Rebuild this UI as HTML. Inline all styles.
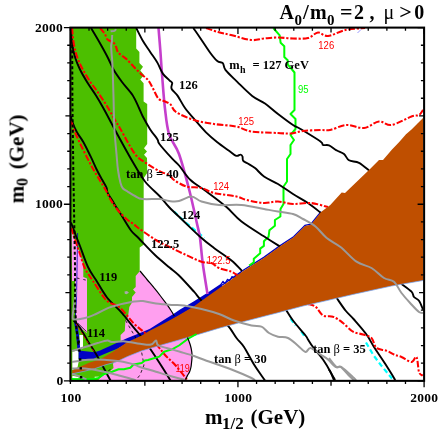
<!DOCTYPE html>
<html><head><meta charset="utf-8"><title>plot</title>
<style>html,body{margin:0;padding:0;background:#fff}svg{display:block}</style></head>
<body><svg width="438" height="436" viewBox="0 0 438 436">
<rect width="438" height="436" fill="#fff"/>
<path d="M139.7,271.3 L147.0,279.5 L153.9,287.7 L160.5,296.0 L166.7,304.2 L171.0,310.5 L174.3,316.0 L156.0,328.0 L140.0,336.0 L124.0,343.0 L112.0,349.0 L112.0,300.0 L130.0,275.0Z" fill="#FF9FEF"/>
<path d="M100.0,364.0 L117.0,359.0 L134.0,352.0 L140.0,351.0 L156.0,345.0 L172.0,340.0 L187.5,334.0 L187.5,337.6 L190.3,345.0 L191.8,352.0 L192.0,357.5 L191.5,363.0 L191.0,367.0 L189.5,372.0 L187.5,375.4 L185.4,380.5 L96.0,380.5Z" fill="#FF9FEF"/>
<path d="M71.0,28.0 L136.2,28.0 L136.2,48.5 L139.4,52.0 L139.4,63.0 L143.0,66.8 L140.3,70.5 L144.0,75.0 L140.3,79.6 L143.6,83.3 L143.6,101.4 L147.2,104.0 L147.2,144.0 L144.0,148.3 L147.0,151.5 L144.0,154.7 L147.0,157.9 L147.2,173.0 L143.7,178.0 L143.6,244.7 L139.7,247.4 L139.7,271.3 L135.7,275.9 L135.7,286.9 L133.0,289.6 L135.7,292.4 L132.0,297.0 L132.0,302.5 L129.3,307.0 L128.0,317.0 L125.4,321.0 L124.8,331.0 L120.6,335.0 L120.6,341.0 L118.0,352.0 L113.0,364.0 L113.5,368.0 L108.0,373.0 L104.0,375.0 L100.0,378.0 L98.0,380.5 L71.0,380.5Z" fill="#4CBF00"/>
<path d="M71.5,229.0 L73.6,235.5 L76.5,244.0 L80.0,254.0 L82.5,262.0 L83.3,265.0 L83.3,277.0 L87.0,278.5 L87.0,333.0 L80.0,327.7 L76.0,322.0 L76.0,300.0 L75.0,281.0 L72.0,281.0Z" fill="#FF9FEF"/>
<path d="M79.5,335.0 L83.0,335.0 L83.0,348.5 L79.5,350.0Z" fill="#fff"/>
<path d="M72.3,351.8 L78.6,350.3 L78.6,362.0 L77.5,367.5 L72.3,370.0Z" fill="#fff"/>
<path d="M72.3,375.7 L78.6,377.0 L78.6,378.6 L72.3,378.6Z" fill="#fff"/>
<path d="M94.7,376.7 L99.0,376.7 L99.0,378.5 L94.7,378.5Z" fill="#fff"/>
<path d="M78.6,350.5 L94.7,352.3 L100.0,350.5 L113.8,344.3 L127.5,337.9 L141.3,332.4 L150.0,328.7 L163.8,320.0 L173.8,313.8 L180.0,309.5 L194.0,301.2 L207.5,292.8 L221.3,283.4 L222.5,287.0 L194.0,307.0 L172.0,320.0 L160.0,327.5 L141.3,336.5 L127.5,342.8 L120.0,347.5 L116.0,349.2 L103.8,354.3 L94.7,358.3 L93.5,359.3 L78.6,359.3Z" fill="#0000C4"/>
<path d="M219.0,287.3 L244.0,269.8 L263.8,257.4 L279.8,245.9 L293.6,236.7 L305.0,225.4 L310.8,224.1 L321.0,211.7" fill="none" stroke="#0000C4" stroke-width="1.3" />
<path d="M75.5,322.0 L77.5,335.0 L79.0,351.0" fill="none" stroke="#0000C4" stroke-width="2.8" />
<path d="M221.0,284.3 L223.0,281.3 L225.0,283.6 L227.5,279.3 L229.7,281.0 L232.0,276.6 L234.2,278.2 L236.5,274.2 L238.7,275.4 L241.0,272.0" fill="none" stroke="#0000C4" stroke-width="1.2" stroke-linejoin="round"/>
<path d="M77.6,233.0 L77.0,270.0 L76.5,300.0 L75.0,320.5" fill="none" stroke="#0000C4" stroke-width="0.8" />
<path d="M174.0,211.6 L185.0,222.0 L204.5,238.0" fill="none" stroke="#00FFFF" stroke-width="2.2" stroke-dasharray="5 3"/>
<path d="M290.5,318.5 L295.5,325.5" fill="none" stroke="#00FFFF" stroke-width="2.2" stroke-dasharray="5 3"/>
<path d="M301.3,331.5 L305.3,337.5" fill="none" stroke="#00FFFF" stroke-width="2.2" stroke-dasharray="5 3"/>
<path d="M366.0,342.5 L373.3,355.0 L380.8,365.0 L387.0,372.5 L392.0,378.5" fill="none" stroke="#00FFFF" stroke-width="2.2" stroke-dasharray="5 3"/>
<path d="M158.5,28.0 C158.8,31.7 159.7,42.3 160.3,50.0 C160.9,57.7 161.2,64.3 162.0,74.0 C162.8,83.7 163.7,98.0 164.9,108.0 C166.1,118.0 166.7,126.3 169.0,134.0 C171.3,141.7 175.7,144.8 179.0,154.0 C182.3,163.2 186.1,177.8 189.0,189.0 C191.9,200.2 194.7,213.3 196.5,221.5 C198.3,229.7 199.0,231.1 200.0,238.0 C201.0,244.9 201.4,253.7 202.7,263.0 C203.9,272.3 206.7,288.8 207.5,294.0" fill="none" stroke="#C53FCC" stroke-width="2.6" />
<path d="M273.3,28.0 L279.7,35.3 L280.6,42.7 L284.3,46.3 L284.3,57.0 L287.7,60.2 L287.7,64.3 L294.5,72.5 L294.5,110.0 L290.5,114.0 L295.5,119.0 L295.5,129.0 L290.5,135.0 L294.0,140.0 L290.5,145.0 L290.5,154.0 L287.0,159.0 L287.0,181.5 L283.5,186.5 L283.5,204.0 L280.5,209.0 L280.4,216.5 L274.9,220.0 L274.9,225.7 L269.4,230.3 L268.6,236.7 L263.9,241.3 L263.9,245.9 L260.2,248.6 L260.2,253.2 L253.8,258.7 L253.8,262.4 L249.2,265.5" fill="none" stroke="#00FF00" stroke-width="2.0" stroke-linejoin="round"/>
<path d="M193.3,28.0 C194.4,29.5 196.9,33.1 199.7,37.2 C202.5,41.3 207.1,48.5 210.0,52.5 C212.9,56.5 215.2,59.2 217.3,61.0 C219.4,62.8 221.4,61.7 222.8,63.2 C224.2,64.7 223.2,67.1 225.6,70.2 C228.0,73.3 233.1,77.8 237.5,82.1 C241.9,86.4 247.6,92.3 252.2,95.9 C256.8,99.5 260.7,100.5 265.0,103.5 C269.3,106.5 273.3,110.4 278.0,114.0 C282.7,117.6 289.2,122.5 293.0,125.0 C296.8,127.5 295.9,126.2 300.5,129.0 C305.1,131.8 316.8,138.8 320.5,141.5 C324.2,144.2 321.6,144.4 323.0,145.0 C324.4,145.6 326.8,144.4 329.0,145.3 C331.2,146.2 334.0,148.9 336.5,150.3 C339.0,151.8 341.9,152.3 344.0,154.0 C346.1,155.7 346.5,158.8 349.0,160.3 C351.5,161.8 355.7,161.1 359.0,162.8 C362.3,164.5 367.3,169.2 369.0,170.5" fill="none" stroke="#000" stroke-width="1.9" stroke-linejoin="round"/>
<path d="M136.2,28.0 C137.3,30.1 140.5,36.8 142.8,40.8 C145.1,44.8 147.8,48.2 150.2,51.9 C152.6,55.6 155.4,59.2 157.5,62.9 C159.6,66.6 161.0,71.0 163.0,73.9 C165.0,76.8 167.9,78.8 169.4,80.3 C170.9,81.8 171.8,81.6 172.2,83.0 C172.5,84.4 170.6,86.4 171.5,88.6 C172.4,90.8 175.4,92.7 177.7,95.9 C179.9,99.1 182.1,104.0 185.0,108.0 C187.9,112.0 191.5,115.9 195.0,120.0 C198.5,124.1 202.3,128.7 206.0,132.4 C209.7,136.1 213.1,138.9 217.0,142.0 C220.9,145.1 226.2,148.7 229.4,151.0 C232.6,153.3 234.5,155.2 236.3,155.8 C238.1,156.4 239.4,154.5 240.4,154.6 C241.4,154.7 242.1,155.5 242.5,156.5 C242.9,157.5 242.3,159.5 243.1,160.6 C243.9,161.7 245.3,162.1 247.3,163.3 C249.3,164.6 252.2,165.9 255.0,168.1 C257.8,170.3 260.2,173.8 264.0,176.5 C267.8,179.2 273.2,181.1 278.0,184.0 C282.8,186.9 288.0,190.8 293.0,194.0 C298.0,197.2 303.3,199.8 308.0,203.0 C312.7,206.2 318.8,211.3 321.0,213.0" fill="none" stroke="#000" stroke-width="1.9" stroke-linejoin="round"/>
<path d="M91.0,28.0 C92.7,30.8 98.2,40.0 101.0,45.0 C103.8,50.0 105.9,53.8 108.0,58.0 C110.1,62.2 111.4,66.0 113.8,70.0 C116.1,74.0 118.9,77.8 122.0,82.0 C125.1,86.2 129.7,90.7 132.5,95.0 C135.3,99.3 137.3,104.4 139.0,108.0 C140.7,111.6 140.9,112.9 142.8,116.5 C144.7,120.1 147.8,125.6 150.2,129.4 C152.6,133.2 156.0,137.0 157.5,139.4 C159.0,141.8 157.0,140.8 159.4,144.0 C161.8,147.2 168.8,155.0 172.2,158.7 C175.5,162.4 176.4,162.4 179.5,166.0 C182.6,169.6 186.0,175.8 190.5,180.0 C195.0,184.2 200.5,187.0 206.5,191.5 C212.5,196.0 220.7,202.0 226.5,207.0 C232.3,212.0 234.8,216.3 241.5,221.5 C248.2,226.7 260.1,233.8 266.5,238.0 C272.9,242.2 277.8,245.1 280.0,246.5" fill="none" stroke="#000" stroke-width="1.9" stroke-linejoin="round"/>
<path d="M71.0,28.0 C71.2,30.8 71.6,40.0 72.3,45.0 C73.0,50.0 74.0,53.9 75.3,58.0 C76.6,62.1 77.9,65.2 80.0,69.5 C82.1,73.8 85.3,79.2 88.0,83.5 C90.7,87.8 93.5,91.5 96.0,95.5 C98.5,99.5 100.7,103.3 103.0,107.5 C105.3,111.7 108.1,116.9 110.0,120.5 C111.9,124.1 110.8,122.2 114.5,129.0 C118.2,135.8 127.4,152.8 132.5,161.5 C137.6,170.2 140.4,175.7 145.0,181.5 C149.6,187.3 156.0,192.2 160.0,196.5 C164.0,200.8 165.0,202.8 169.0,207.0 C173.0,211.2 178.6,216.3 184.0,221.5 C189.4,226.7 196.5,233.6 201.5,238.0 C206.5,242.4 209.0,244.2 214.0,248.0 C219.0,251.8 226.8,256.7 231.5,260.5 C236.2,264.3 240.2,269.2 242.0,271.0" fill="none" stroke="#000" stroke-width="1.9" stroke-linejoin="round"/>
<path d="M71.0,116.0 C71.2,116.8 71.0,118.3 72.0,121.0 C73.0,123.7 74.9,128.5 76.8,132.0 C78.7,135.5 81.0,138.0 83.3,142.0 C85.6,146.0 88.2,151.5 90.5,156.2 C92.8,160.9 95.0,166.1 96.9,170.0 C98.8,173.9 100.4,176.6 102.0,179.5 C103.6,182.4 105.6,185.3 106.5,187.5 C107.4,189.7 106.6,190.4 107.5,192.5 C108.4,194.6 110.4,197.4 112.0,200.0 C113.6,202.6 115.5,205.9 117.0,208.3 C118.5,210.7 118.7,210.8 121.0,214.5 C123.3,218.2 128.0,226.5 131.0,230.5 C134.0,234.5 135.0,234.4 139.0,238.5 C143.0,242.6 149.9,250.2 155.0,255.0 C160.1,259.8 165.5,264.1 169.5,267.5 C173.5,270.9 174.9,271.5 179.0,275.5 C183.1,279.5 190.5,287.8 194.0,291.7 C197.5,295.6 196.5,295.1 200.0,299.0 C203.5,302.9 210.4,310.6 215.0,315.0 C219.6,319.4 224.1,321.7 227.7,325.5 C231.3,329.3 233.8,334.4 236.5,338.0 C239.2,341.6 241.1,342.6 244.0,347.0 C246.9,351.4 250.5,358.9 254.0,364.5 C257.5,370.1 263.2,377.8 265.0,380.5" fill="none" stroke="#000" stroke-width="1.9" stroke-linejoin="round"/>
<path d="M71.0,222.5 C71.4,223.6 72.7,226.8 73.5,229.0 C74.3,231.2 74.9,233.2 76.0,236.0 C77.1,238.8 78.0,240.8 80.0,246.0 C82.0,251.2 85.3,261.3 88.0,267.0 C90.7,272.7 92.8,274.9 96.0,280.0 C99.2,285.1 103.0,292.4 107.0,297.5 C111.0,302.6 117.2,307.8 120.0,310.8 C122.8,313.8 121.7,312.7 124.0,315.5 C126.3,318.3 131.3,324.6 134.0,327.8 C136.7,331.1 137.2,331.4 140.0,335.0 C142.8,338.6 147.0,344.2 150.5,349.3 C154.0,354.4 157.7,360.1 161.0,365.3 C164.3,370.5 168.9,378.0 170.5,380.5" fill="none" stroke="#000" stroke-width="1.9" stroke-linejoin="round"/>
<path d="M73.6,320.5 C74.7,321.7 77.6,324.2 80.0,327.7 C82.4,331.2 85.3,337.0 88.0,341.4 C90.7,345.8 93.0,348.9 96.0,354.0 C99.0,359.1 103.3,367.3 105.7,371.7 C108.1,376.1 109.7,379.0 110.5,380.5" fill="none" stroke="#000" stroke-width="1.9" stroke-linejoin="round"/>
<path d="M285.5,309.0 C286.8,310.9 289.7,316.1 293.0,320.5 C296.3,324.9 303.0,332.3 305.5,335.5 C308.0,338.7 306.8,337.6 308.0,339.5 C309.2,341.4 310.5,343.7 313.0,347.0 C315.5,350.3 320.1,355.3 323.0,359.5 C325.9,363.7 328.7,368.5 330.5,372.0 C332.3,375.5 333.4,379.1 334.0,380.5" fill="none" stroke="#000" stroke-width="1.9" stroke-linejoin="round"/>
<path d="M336.7,298.0 C338.2,300.1 342.6,306.9 345.5,310.5 C348.4,314.1 350.5,315.5 354.0,319.5 C357.5,323.5 363.2,329.9 366.5,334.5 C369.8,339.1 371.1,342.4 374.0,347.0 C376.9,351.6 380.7,356.8 384.0,362.0 C387.3,367.2 392.2,374.9 394.0,378.0 C395.8,381.1 394.8,380.1 395.0,380.5" fill="none" stroke="#000" stroke-width="1.9" stroke-linejoin="round"/>
<path d="M401.5,284.0 C403.2,285.3 409.4,289.5 411.5,291.7 C413.6,293.9 412.8,295.5 414.0,297.0 C415.2,298.5 417.5,298.6 419.0,300.7 C420.5,302.8 422.3,308.0 423.0,309.5" fill="none" stroke="#000" stroke-width="1.9" stroke-linejoin="round"/>
<path d="M329.0,369.5 C329.8,370.9 333.0,376.2 334.0,378.0 C335.0,379.8 334.8,380.1 335.0,380.5" fill="none" stroke="#000" stroke-width="1.9" stroke-linejoin="round"/>
<path d="M206.0,28.0 C208.0,28.7 213.8,30.8 218.0,32.0 C222.2,33.2 225.5,33.7 231.0,35.0 C236.5,36.3 245.5,39.4 251.0,40.0 C256.5,40.6 259.5,38.9 264.0,38.5 C268.5,38.1 273.2,37.5 278.0,37.5 C282.8,37.5 288.0,38.4 293.0,38.5 C298.0,38.6 303.8,39.0 308.0,38.0 C312.2,37.0 314.7,32.8 318.0,32.5 C321.3,32.2 323.4,36.4 328.0,36.0 C332.6,35.6 339.3,31.3 345.5,30.0 C351.7,28.7 361.8,28.3 365.0,28.0" fill="none" stroke="#FF0000" stroke-width="2.05" stroke-dasharray="6.5 1.8 2.2 1.8"/>
<path d="M100.0,28.0 C100.4,28.4 101.5,29.7 102.3,30.7 C103.1,31.7 104.2,32.6 105.0,34.0 C105.8,35.4 106.2,37.9 107.0,39.0 C107.8,40.1 108.7,40.3 109.7,40.8 C110.8,41.3 112.2,41.2 113.3,42.2 C114.3,43.2 115.2,45.1 116.0,46.8 C116.8,48.5 116.9,50.8 118.0,52.3 C119.1,53.8 121.0,54.8 122.5,56.0 C124.0,57.2 125.1,57.8 127.0,59.6 C128.9,61.4 131.7,64.6 134.0,67.0 C136.3,69.4 138.6,71.7 141.0,73.9 C143.4,76.1 146.3,77.8 148.3,80.3 C150.3,82.8 151.3,85.5 153.0,88.6 C154.7,91.6 156.4,96.4 158.4,98.6 C160.4,100.8 162.9,100.6 164.9,101.5 C166.9,102.4 168.6,102.5 170.4,104.2 C172.2,106.0 172.1,109.4 176.0,112.0 C179.9,114.6 187.7,118.0 194.0,120.0 C200.3,122.0 207.0,122.9 214.0,124.0 C221.0,125.1 229.8,125.2 236.0,126.5 C242.2,127.8 244.5,130.4 251.5,131.5 C258.5,132.6 271.5,132.7 278.0,133.0 C284.5,133.3 286.3,133.8 290.5,133.5 C294.7,133.2 298.0,131.6 303.0,131.0 C308.0,130.4 316.0,130.2 320.5,130.0 C325.0,129.8 325.7,130.8 330.0,130.0 C334.3,129.2 340.8,125.3 346.5,125.0 C352.2,124.7 358.6,128.6 364.0,128.0 C369.4,127.4 374.4,122.0 379.0,121.5 C383.6,121.0 386.1,125.8 391.5,125.0 C396.9,124.2 406.9,118.2 411.5,116.5 C416.1,114.8 417.1,116.1 419.0,115.0 C420.9,113.9 422.3,110.8 423.0,110.0" fill="none" stroke="#FF0000" stroke-width="2.05" stroke-dasharray="6.5 1.8 2.2 1.8"/>
<path d="M72.0,28.0 C72.3,30.8 73.1,40.0 74.0,45.0 C74.9,50.0 76.1,54.0 77.5,58.0 C78.9,62.0 80.4,65.1 82.5,69.0 C84.6,72.9 87.4,77.6 90.0,81.5 C92.6,85.4 95.1,88.2 98.0,92.5 C100.9,96.8 104.7,102.4 107.5,107.0 C110.3,111.6 113.1,116.8 115.0,120.0 C116.9,123.2 118.0,124.8 119.0,126.5 C120.0,128.2 118.3,125.4 121.0,130.0 C123.7,134.6 130.6,148.3 135.0,154.0 C139.4,159.7 143.3,161.1 147.5,164.0 C151.7,166.9 156.4,169.7 160.0,171.5 C163.6,173.3 166.7,173.6 169.0,175.0 C171.3,176.4 171.1,178.1 174.0,180.0 C176.9,181.9 181.9,185.2 186.5,186.5 C191.1,187.8 196.9,186.9 201.5,188.0 C206.1,189.1 208.2,191.6 214.0,193.0 C219.8,194.4 231.1,195.3 236.5,196.5 C241.9,197.7 241.9,198.9 246.5,200.0 C251.1,201.1 258.8,202.8 264.0,203.0 C269.2,203.2 273.2,201.3 278.0,201.5 C282.8,201.7 287.6,203.8 293.0,204.0 C298.4,204.2 304.7,202.5 310.5,203.0 C316.3,203.5 325.1,206.3 328.0,207.0" fill="none" stroke="#FF0000" stroke-width="2.05" stroke-dasharray="6.5 1.8 2.2 1.8"/>
<path d="M71.2,120.9 C71.6,122.2 72.1,125.2 73.6,128.9 C75.1,132.6 77.6,138.2 80.0,143.3 C82.4,148.4 85.7,155.0 88.0,159.4 C90.3,163.8 91.7,166.5 93.7,170.0 C95.7,173.5 98.0,177.1 100.0,180.5 C102.0,183.9 104.5,187.8 106.0,190.5 C107.5,193.2 107.8,194.8 109.0,197.0 C110.2,199.2 111.4,201.2 113.0,203.5 C114.6,205.8 116.2,208.3 118.5,211.0 C120.8,213.7 124.4,217.3 127.0,219.5 C129.6,221.7 132.0,222.9 134.0,224.4 C136.0,225.9 135.3,225.9 139.0,228.5 C142.7,231.1 150.9,237.0 155.9,240.0 C160.9,243.0 164.3,244.4 169.0,246.7 C173.7,249.0 178.6,251.5 184.0,254.0 C189.4,256.5 196.9,260.2 201.5,261.7 C206.1,263.2 208.6,261.9 211.5,263.0 C214.4,264.1 215.7,266.6 219.0,268.0 C222.3,269.4 228.3,270.4 231.5,271.7 C234.7,273.0 236.9,275.3 238.0,276.0" fill="none" stroke="#FF0000" stroke-width="2.05" stroke-dasharray="6.5 1.8 2.2 1.8"/>
<path d="M71.2,228.0 C71.6,229.2 72.7,232.8 73.6,235.5 C74.5,238.2 75.4,240.9 76.5,244.0 C77.6,247.1 78.6,249.9 80.0,254.0 C81.4,258.1 82.8,264.0 85.0,268.5 C87.2,273.0 89.8,276.2 93.0,281.0 C96.2,285.8 101.2,293.8 104.0,297.5 C106.8,301.2 107.3,301.3 110.0,303.0 C112.7,304.7 116.0,304.2 120.0,307.7 C124.0,311.1 129.8,319.5 134.0,323.7 C138.2,327.9 141.1,329.3 145.0,333.0 C148.9,336.7 154.2,342.2 157.7,346.0 C161.1,349.8 162.8,352.5 165.7,355.7 C168.6,358.9 172.1,361.6 175.4,365.3 C178.8,369.0 183.9,375.5 185.8,378.0 C187.7,380.5 186.8,380.1 187.0,380.5" fill="none" stroke="#FF0000" stroke-width="2.05" stroke-dasharray="6.5 1.8 2.2 1.8"/>
<path d="M308.0,304.0 C309.2,304.4 313.0,304.8 315.5,306.7 C318.0,308.6 320.1,313.8 323.0,315.5 C325.9,317.2 329.7,315.4 333.0,316.7 C336.3,317.9 339.7,320.5 343.0,323.0 C346.3,325.5 349.7,329.8 353.0,331.7 C356.3,333.6 359.9,333.4 363.0,334.5 C366.1,335.6 369.2,335.8 371.5,338.0 C373.8,340.2 374.0,345.9 376.5,348.0 C379.0,350.1 383.6,349.6 386.5,350.7 C389.4,351.8 391.5,353.4 394.0,354.5 C396.5,355.6 398.6,355.8 401.5,357.0 C404.4,358.2 409.0,362.0 411.5,362.0 C414.0,362.0 415.2,355.3 416.5,357.0 C417.8,358.7 418.0,368.9 419.0,372.0 C420.0,375.1 422.1,375.1 422.7,375.7" fill="none" stroke="#FF0000" stroke-width="2.05" stroke-dasharray="6.5 1.8 2.2 1.8"/>
<path d="M140.0,271.0 C141.2,272.4 144.7,276.7 147.0,279.5 C149.3,282.3 151.7,284.9 153.9,287.7 C156.2,290.4 158.4,293.2 160.5,296.0 C162.6,298.8 164.9,301.8 166.7,304.2 C168.4,306.6 169.7,308.5 171.0,310.5 C172.3,312.5 173.8,315.1 174.3,316.0" fill="none" stroke="#000" stroke-width="1.2" />
<path d="M77.6,323.0 L86.5,331.7" fill="none" stroke="#000" stroke-width="0.8" />
<path d="M77.0,278.0 L88.0,280.6" fill="none" stroke="#000" stroke-width="0.8" stroke-dasharray="2.5 4"/>
<path d="M76.0,323.7 L85.0,338.0 L95.0,353.0" fill="none" stroke="#FF0000" stroke-width="0.8" stroke-dasharray="3 2"/>
<path d="M357.5,33.0 L361.0,29.5" fill="none" stroke="#5555FF" stroke-width="0.6" />
<path d="M125.6,320.5 L135.0,336.5 L141.7,352.6 L144.0,365.0 L140.0,375.0 L137.6,378.0" fill="none" stroke="#000" stroke-width="0.8" stroke-dasharray="3 3"/>
<path d="M98.5,378.0 L104.0,374.0 L110.5,369.3" fill="none" stroke="#000" stroke-width="0.8" stroke-dasharray="3 3"/>
<path d="M72.3,370.4 L77.5,368.0 L89.0,362.7 L100.4,359.3 L114.0,351.0 L120.0,347.0 L127.5,342.0 L141.3,335.8 L150.0,330.6 L160.0,325.4 L163.8,323.4 L172.0,319.0 L180.0,314.4 L194.0,306.2 L207.5,296.5 L221.3,286.8 L244.0,270.5 L263.8,258.0 L279.8,246.5 L293.6,237.3 L305.0,225.9 L310.8,224.7 L321.0,212.0 L330.3,205.0 L341.7,192.6 L345.0,193.0 L369.0,170.0 L379.0,160.0 L383.0,160.0 L392.0,149.5 L399.0,142.3 L406.0,134.3 L411.5,129.5 L418.0,123.0 L423.0,118.0 L423.0,280.5 L391.5,286.0 L354.0,294.2 L328.0,300.3 L303.0,306.0 L278.0,312.7 L269.0,315.0 L244.0,321.5 L219.0,328.2 L194.0,335.7 L172.0,342.0 L160.0,345.4 L141.3,351.0 L127.5,356.5 L116.0,362.0 L106.0,364.7 L94.7,368.7 L83.2,371.5 L72.3,373.8Z" fill="#BF4F00"/>
<path d="M72.3,373.8 L83.2,371.5 L94.7,368.7 L106.0,364.7 L116.0,362.0 L127.5,356.5 L141.3,351.0 L160.0,345.4 L172.0,342.0 L194.0,335.7 L219.0,328.2 L244.0,321.5 L269.0,315.0 L278.0,312.7 L303.0,306.0 L328.0,300.3 L354.0,294.2 L391.5,286.0 L423.0,280.5" fill="none" stroke="#6FA8FF" stroke-width="0.7" />
<path d="M196.5,334.0 L187.7,339.0 L179.0,345.5 L172.0,349.4 L164.0,351.8 L159.3,356.6 L148.0,360.0 L144.9,360.5 L141.7,363.0 L133.6,364.5 L130.4,367.7 L124.0,369.3 L118.6,369.3 L112.0,371.7 L104.0,374.0 L98.5,378.0 L94.0,379.0 L80.0,379.2 L71.5,379.0" fill="none" stroke="#00FF00" stroke-width="2.0" stroke-linejoin="round"/>
<path d="M187.5,337.6 C188.0,338.8 189.6,342.6 190.3,345.0 C191.0,347.4 191.5,349.9 191.8,352.0 C192.1,354.1 192.1,355.7 192.0,357.5 C191.9,359.3 191.7,361.4 191.5,363.0 C191.3,364.6 191.3,365.5 191.0,367.0 C190.7,368.5 190.1,370.6 189.5,372.0 C188.9,373.4 188.2,374.1 187.5,375.4 C186.8,376.7 185.8,379.2 185.4,380.0" fill="none" stroke="#000" stroke-width="1.2" />
<path d="M124.5,291.5 L127.0,291.0 L129.0,292.8 L126.5,294.3 L124.8,293.8Z" fill="#A8A8A8"/>
<path d="M110.6,31.3 C111.2,31.2 113.6,31.2 114.5,30.8 C115.4,30.4 115.8,29.3 116.0,29.0" fill="none" stroke="#9A9A9A" stroke-width="2.0" stroke-linejoin="round"/>
<path d="M112.2,35.0 C112.1,36.2 112.0,40.2 111.8,42.0 C111.6,43.8 111.2,44.0 111.2,46.0 C111.2,48.0 111.4,51.3 111.6,54.0 C111.8,56.7 112.1,57.7 112.3,62.0 C112.5,66.3 112.8,73.7 113.0,80.0 C113.2,86.3 113.4,91.8 113.6,100.0 C113.8,108.2 113.9,120.0 114.4,129.0 C114.9,138.0 115.9,147.2 116.5,154.0 C117.1,160.8 117.3,165.2 118.0,170.0 C118.7,174.8 119.7,179.9 120.5,183.0 C121.3,186.1 121.8,187.1 123.0,188.5 C124.2,189.9 125.5,190.2 127.5,191.5 C129.5,192.8 132.5,194.8 135.0,196.0 C137.5,197.2 138.3,198.5 142.5,199.0 C146.7,199.5 155.6,198.7 160.0,199.0 C164.4,199.3 165.8,200.7 169.0,201.0 C172.2,201.3 175.2,201.8 179.0,201.0 C182.8,200.2 187.8,196.4 191.5,196.5 C195.2,196.6 196.9,200.1 201.5,201.5 C206.1,202.9 212.3,204.4 219.0,205.0 C225.7,205.6 234.0,204.3 241.5,205.0 C249.0,205.7 257.9,207.9 264.0,209.0 C270.1,210.1 273.2,210.7 278.0,211.5 C282.8,212.3 288.8,212.8 293.0,214.0 C297.2,215.2 299.2,216.9 303.0,219.0 C306.8,221.1 311.6,223.3 315.5,226.5 C319.4,229.7 322.5,234.6 326.7,238.0 C330.9,241.4 335.5,243.1 340.5,247.0 C345.5,250.9 351.3,258.2 356.5,261.7 C361.7,265.2 366.9,265.3 371.5,268.0 C376.1,270.7 380.2,275.7 384.0,278.0 C387.8,280.3 391.1,279.2 394.0,281.7 C396.9,284.2 398.6,289.2 401.5,293.0 C404.4,296.8 408.6,301.3 411.5,304.5 C414.4,307.7 417.1,310.6 419.0,312.0 C420.9,313.4 422.3,312.8 423.0,313.0" fill="none" stroke="#9A9A9A" stroke-width="2.0" stroke-linejoin="round"/>
<path d="M76.0,290.0 C75.6,293.3 74.0,305.2 73.5,310.0 C73.0,314.8 71.1,317.7 73.0,319.0 C74.9,320.3 81.2,318.8 85.0,318.0 C88.8,317.2 92.0,315.7 96.0,314.0 C100.0,312.3 105.0,309.2 109.0,307.6 C113.0,306.0 115.8,305.4 120.0,304.4 C124.2,303.4 130.2,302.1 134.0,301.5 C137.8,300.9 139.3,300.6 143.0,301.0 C146.7,301.4 151.2,302.9 156.0,303.6 C160.8,304.3 167.3,304.7 172.0,305.0 C176.7,305.3 179.1,304.8 184.0,305.5 C188.9,306.2 195.7,307.6 201.5,309.0 C207.3,310.4 213.6,312.1 219.0,314.0 C224.4,315.9 228.6,318.6 234.0,320.5 C239.4,322.4 246.9,324.5 251.5,325.5 C256.1,326.5 258.6,325.4 261.5,326.7 C264.4,327.9 266.2,331.3 269.0,333.0 C271.8,334.7 274.8,335.9 278.0,336.7 C281.2,337.5 284.7,336.5 288.0,338.0 C291.3,339.5 295.1,343.4 298.0,345.7 C300.9,348.0 303.4,351.6 305.5,352.0 C307.6,352.4 308.0,347.6 310.5,348.0 C313.0,348.4 317.6,352.6 320.5,354.5 C323.4,356.4 325.5,357.4 328.0,359.5 C330.5,361.6 333.4,365.8 335.5,367.0 C337.6,368.2 338.4,365.8 340.5,367.0 C342.6,368.2 345.8,372.2 348.0,374.5 C350.2,376.8 353.0,379.5 354.0,380.5" fill="none" stroke="#9A9A9A" stroke-width="2.0" stroke-linejoin="round"/>
<path d="M72.0,351.0 C74.2,350.3 80.7,348.3 85.0,347.0 C89.3,345.7 94.0,344.1 97.7,343.0 C101.4,341.9 104.9,340.7 107.3,340.5 C109.7,340.3 109.0,341.9 112.0,342.0 C115.0,342.1 120.3,341.1 125.0,341.4 C129.7,341.7 135.7,343.3 140.0,343.8 C144.3,344.3 148.3,345.2 151.0,344.6 C153.7,344.1 154.8,340.4 156.0,340.5 C157.2,340.6 155.8,343.9 158.5,345.4 C161.2,346.9 168.4,348.3 172.0,349.4 C175.6,350.5 176.3,350.7 180.0,351.8 C183.7,352.9 189.6,354.5 194.0,356.0 C198.4,357.5 200.2,358.4 206.5,360.7 C212.8,362.9 224.0,366.6 231.5,369.5 C239.0,372.4 247.6,376.2 251.5,378.0 C255.4,379.8 254.4,380.1 255.0,380.5" fill="none" stroke="#9A9A9A" stroke-width="2.0" stroke-linejoin="round"/>
<path d="M72.0,362.0 C74.7,361.6 82.7,360.1 88.0,359.7 C93.3,359.3 98.7,359.4 104.0,359.7 C109.3,360.0 115.0,360.5 120.0,361.3 C125.0,362.1 130.7,363.6 134.0,364.5 C137.3,365.4 136.3,365.8 140.0,367.0 C143.7,368.2 150.7,370.1 156.0,371.7 C161.3,373.3 167.4,375.2 172.0,376.5 C176.6,377.8 181.2,378.8 183.4,379.5 C185.6,380.2 184.7,380.3 185.0,380.5" fill="none" stroke="#9A9A9A" stroke-width="2.0" stroke-linejoin="round"/>
<path d="M72.0,368.5 C74.2,368.5 79.7,368.0 85.0,368.5 C90.3,369.0 98.2,370.5 104.0,371.7 C109.8,372.9 115.1,374.4 120.0,375.7 C124.9,377.0 131.1,378.7 133.6,379.5 C136.1,380.3 134.8,380.3 135.0,380.5" fill="none" stroke="#9A9A9A" stroke-width="2.0" stroke-linejoin="round"/>
<path d="M72.0,374.0 C73.3,374.4 77.6,375.6 80.0,376.5 C82.4,377.4 85.4,379.0 86.5,379.5" fill="none" stroke="#9A9A9A" stroke-width="2.0" stroke-linejoin="round"/>
<path d="M329.0,358.0 C330.2,359.5 334.4,365.5 336.5,367.0 C338.6,368.5 338.6,365.2 341.5,367.0 C344.4,368.8 351.6,375.8 354.0,378.0 C356.4,380.2 355.7,380.1 356.0,380.5" fill="none" stroke="#9A9A9A" stroke-width="2.0" stroke-linejoin="round"/>
<path d="M72.2,45.0 L72.4,100.0 L73.3,170.0 L74.2,220.0 L75.0,265.0 L75.0,300.0 L76.0,325.0 L78.5,345.0" fill="none" stroke="#000" stroke-width="2.0" stroke-dasharray="3 2.3"/>
<path d="M78.6,340.5 L79.8,355.0 L80.5,363.5 L81.2,378.5" fill="none" stroke="#000" stroke-width="2.4" stroke-dasharray="2.4 6.5"/>
<rect x="70.4" y="27.6" width="353.70000000000005" height="353.25" fill="none" stroke="#000" stroke-width="2.05"/>
<path d="M70.40,380.85 v3.2 M70.40,27.6 v3.2 M89.02,380.85 v3.2 M89.02,27.6 v3.2 M107.63,380.85 v3.2 M107.63,27.6 v3.2 M126.25,380.85 v3.2 M126.25,27.6 v3.2 M144.86,380.85 v5 M144.86,27.6 v5 M163.48,380.85 v3.2 M163.48,27.6 v3.2 M182.09,380.85 v3.2 M182.09,27.6 v3.2 M200.71,380.85 v3.2 M200.71,27.6 v3.2 M219.33,380.85 v3.2 M219.33,27.6 v3.2 M237.94,380.85 v6.5 M237.94,27.6 v6.5 M256.56,380.85 v3.2 M256.56,27.6 v3.2 M275.17,380.85 v3.2 M275.17,27.6 v3.2 M293.79,380.85 v3.2 M293.79,27.6 v3.2 M312.41,380.85 v3.2 M312.41,27.6 v3.2 M331.02,380.85 v5 M331.02,27.6 v5 M349.64,380.85 v3.2 M349.64,27.6 v3.2 M368.25,380.85 v3.2 M368.25,27.6 v3.2 M386.87,380.85 v3.2 M386.87,27.6 v3.2 M405.48,380.85 v3.2 M405.48,27.6 v3.2 M424.10,380.85 v6.5 M424.10,27.6 v6.5 M70.4,380.85 h-6.5 M424.1,380.85 h-6.5 M70.4,363.19 h-3.2 M424.1,363.19 h-3.2 M70.4,345.53 h-3.2 M424.1,345.53 h-3.2 M70.4,327.86 h-3.2 M424.1,327.86 h-3.2 M70.4,310.20 h-3.2 M424.1,310.20 h-3.2 M70.4,292.54 h-5 M424.1,292.54 h-5 M70.4,274.88 h-3.2 M424.1,274.88 h-3.2 M70.4,257.21 h-3.2 M424.1,257.21 h-3.2 M70.4,239.55 h-3.2 M424.1,239.55 h-3.2 M70.4,221.89 h-3.2 M424.1,221.89 h-3.2 M70.4,204.23 h-6.5 M424.1,204.23 h-6.5 M70.4,186.56 h-3.2 M424.1,186.56 h-3.2 M70.4,168.90 h-3.2 M424.1,168.90 h-3.2 M70.4,151.24 h-3.2 M424.1,151.24 h-3.2 M70.4,133.57 h-3.2 M424.1,133.57 h-3.2 M70.4,115.91 h-5 M424.1,115.91 h-5 M70.4,98.25 h-3.2 M424.1,98.25 h-3.2 M70.4,80.59 h-3.2 M424.1,80.59 h-3.2 M70.4,62.93 h-3.2 M424.1,62.93 h-3.2 M70.4,45.26 h-3.2 M424.1,45.26 h-3.2 M70.4,27.60 h-6.5 M424.1,27.60 h-6.5" stroke="#000" stroke-width="1.3" fill="none"/>
<g opacity="0.999">
<text x="63" y="31.9" font-family="'Liberation Serif', serif" font-size="13.5" font-weight="bold" fill="#000" text-anchor="end" letter-spacing="0.25">2000</text>
<text x="63" y="208.4" font-family="'Liberation Serif', serif" font-size="13.5" font-weight="bold" fill="#000" text-anchor="end" letter-spacing="0.25">1000</text>
<text x="63.3" y="385.2" font-family="'Liberation Serif', serif" font-size="13.5" font-weight="bold" fill="#000" text-anchor="end" >0</text>
<text x="70.9" y="401.8" font-family="'Liberation Serif', serif" font-size="13.5" font-weight="bold" fill="#000" text-anchor="middle" letter-spacing="0.25">100</text>
<text x="238.2" y="401.8" font-family="'Liberation Serif', serif" font-size="13.5" font-weight="bold" fill="#000" text-anchor="middle" letter-spacing="0.25">1000</text>
<text x="424.3" y="401.8" font-family="'Liberation Serif', serif" font-size="13.5" font-weight="bold" fill="#000" text-anchor="middle" letter-spacing="0.25">2000</text>
<text x="279.5" y="18.8" font-family="'Liberation Serif', serif" font-size="20" font-weight="bold" fill="#000" text-anchor="start" >A</text>
<text x="294.5" y="24.7" font-family="'Liberation Serif', serif" font-size="15" font-weight="bold" fill="#000" text-anchor="start" >0</text>
<text x="303" y="18.8" font-family="'Liberation Serif', serif" font-size="21" font-weight="bold" fill="#000" text-anchor="start" >/</text>
<text x="310" y="18.8" font-family="'Liberation Serif', serif" font-size="20" font-weight="bold" fill="#000" text-anchor="start" >m</text>
<text x="327" y="24.7" font-family="'Liberation Serif', serif" font-size="15" font-weight="bold" fill="#000" text-anchor="start" >0</text>
<text x="340" y="19" font-family="'Liberation Serif', serif" font-size="22" font-weight="bold" fill="#000" text-anchor="start" >=</text>
<text x="354" y="18.8" font-family="'Liberation Serif', serif" font-size="20" font-weight="bold" fill="#000" text-anchor="start" >2</text>
<text x="369.5" y="18.8" font-family="'Liberation Serif', serif" font-size="20" font-weight="bold" fill="#000" text-anchor="start" >,</text>
<text x="383.5" y="18.8" font-family="'Liberation Serif', serif" font-size="20" font-weight="normal" fill="#000" text-anchor="start" >μ</text>
<text x="399.3" y="19" font-family="'Liberation Serif', serif" font-size="22" font-weight="bold" fill="#000" text-anchor="start" >&gt;</text>
<text x="414.3" y="18.8" font-family="'Liberation Serif', serif" font-size="20" font-weight="bold" fill="#000" text-anchor="start" >0</text>
<text x="205" y="423.5" font-family="'Liberation Serif', serif" font-size="21" font-weight="bold" fill="#000" text-anchor="start" >m</text>
<text x="222" y="429.3" font-family="'Liberation Serif', serif" font-size="17" font-weight="bold" fill="#000" text-anchor="start" >1/2</text>
<text x="250.5" y="423.5" font-family="'Liberation Serif', serif" font-size="21" font-weight="bold" fill="#000" text-anchor="start" >(GeV)</text>
<g transform="translate(23.6,203.3) rotate(-90)">
<text x="0" y="0" font-family="'Liberation Serif', serif" font-size="21" font-weight="bold" fill="#000" text-anchor="start" >m</text>
<text x="17.3" y="3.6" font-family="'Liberation Serif', serif" font-size="16" font-weight="bold" fill="#000" text-anchor="start" >0</text>
<text x="34" y="0" font-family="'Liberation Serif', serif" font-size="21" font-weight="bold" fill="#000" text-anchor="start" >(GeV)</text>
</g>
<text x="179" y="89" font-family="'Liberation Serif', serif" font-size="12.5" font-weight="bold" fill="#000" text-anchor="start" >126</text>
<text x="160" y="141" font-family="'Liberation Serif', serif" font-size="12.5" font-weight="bold" fill="#000" text-anchor="start" >125</text>
<text x="181.5" y="219" font-family="'Liberation Serif', serif" font-size="12.5" font-weight="bold" fill="#000" text-anchor="start" >124</text>
<text x="151" y="248.3" font-family="'Liberation Serif', serif" font-size="12.5" font-weight="bold" fill="#000" text-anchor="start" >122.5</text>
<text x="99.3" y="280.5" font-family="'Liberation Serif', serif" font-size="12.5" font-weight="bold" fill="#000" text-anchor="start" >119</text>
<text x="87" y="336.5" font-family="'Liberation Serif', serif" font-size="12.5" font-weight="bold" fill="#000" text-anchor="start" >114</text>
<text x="229.3" y="69" font-family="'Liberation Serif', serif" font-size="12.5" font-weight="bold" fill="#000" text-anchor="start" >m</text>
<text x="240" y="73.2" font-family="'Liberation Serif', serif" font-size="10" font-weight="bold" fill="#000" text-anchor="start" >h</text>
<text x="252.5" y="69" font-family="'Liberation Serif', serif" font-size="12.5" font-weight="bold" fill="#000" text-anchor="start" >= 127 GeV</text>
<text x="126" y="178" font-family="'Liberation Serif', serif" font-size="12.5" font-weight="bold" fill="#000" text-anchor="start" >tan <tspan font-weight="normal">β</tspan> = 40</text>
<text x="214" y="363" font-family="'Liberation Serif', serif" font-size="12.5" font-weight="bold" fill="#000" text-anchor="start" >tan <tspan font-weight="normal">β</tspan> = 30</text>
<text x="313" y="352.7" font-family="'Liberation Serif', serif" font-size="12.5" font-weight="bold" fill="#000" text-anchor="start" >tan <tspan font-weight="normal">β</tspan> = 35</text>
<text transform="translate(318.3,48.6) scale(0.9,1)" font-family="'Liberation Sans', sans-serif" font-size="10.6" fill="#FF0000">126</text>
<text transform="translate(238.2,124.7) scale(0.9,1)" font-family="'Liberation Sans', sans-serif" font-size="10.6" fill="#FF0000">125</text>
<text transform="translate(213.2,189.7) scale(0.9,1)" font-family="'Liberation Sans', sans-serif" font-size="10.6" fill="#FF0000">124</text>
<text transform="translate(206.7,263.7) scale(0.9,1)" font-family="'Liberation Sans', sans-serif" font-size="10.6" fill="#FF0000">122.5</text>
<text transform="translate(175.5,371.5) scale(0.9,1)" font-family="'Liberation Sans', sans-serif" font-size="10" fill="#FF0000">119</text>
<text transform="translate(298,92.5) scale(0.9,1)" font-family="'Liberation Sans', sans-serif" font-size="10.6" fill="#00FF00">95</text>
</g>
</svg></body></html>
